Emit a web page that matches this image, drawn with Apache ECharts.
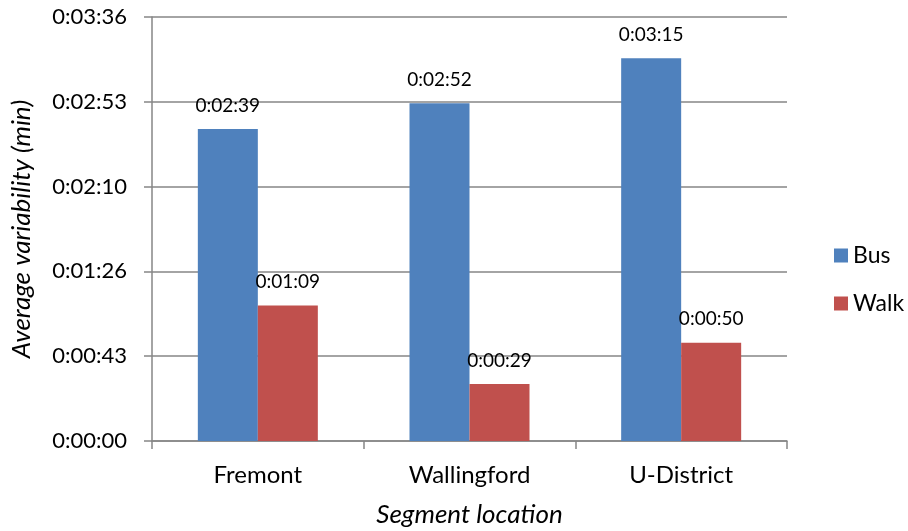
<!DOCTYPE html>
<html>
<head>
<meta charset="utf-8">
<script src="https://cdn.jsdelivr.net/npm/echarts@6/dist/echarts.min.js"></script>
<style>html,body{margin:0;padding:0;background:#fff;}#c{width:908px;height:531px;}</style>
</head>
<body>
<div id="c"></div>
<script>
// Data (seconds)
const categories = ["Fremont", "Wallingford", "U-District"];
const busValues = [159, 172, 195];
const walkValues = [69, 29, 50];
const seriesNames = ["Bus", "Walk"];
const yMax = 216; // 0:03:36
const yInterval = 43.2;

function fmt(v) {
  const s = Math.round(v);
  const h = Math.floor(s / 3600);
  const m = Math.floor((s % 3600) / 60);
  const sec = s % 60;
  return h + ":" + String(m).padStart(2, "0") + ":" + String(sec).padStart(2, "0");
}

const FONT = "Lato, 'Open Sans', sans-serif";
const chart = echarts.init(document.getElementById("c"), null, {renderer: "canvas"});
chart.setOption({
  animation: false,
  textStyle: {fontFamily: FONT, color: "#000"},
  grid: {left: 152, right: 121, top: 17, bottom: 90, containLabel: false, outerBoundsMode: "none"},
  legend: {
    orient: "vertical",
    left: 829, top: 239,
    itemWidth: 14, itemHeight: 14, itemGap: 25,
    icon: "rect",
    textStyle: {fontSize: 23, fontFamily: FONT, color: "#000", padding: [0, 0, 0, 0]},
    data: seriesNames
  },
  xAxis: {
    type: "category",
    data: categories,
    name: "Segment location",
    nameLocation: "middle",
    nameGap: 61,
    nameTextStyle: {fontSize: 26, fontStyle: "italic", fontFamily: FONT, color: "#000"},
    axisLine: {lineStyle: {color: "#868686", width: 1.5}},
    axisTick: {show: true, length: 8, lineStyle: {color: "#868686", width: 1.5}},
    axisLabel: {fontSize: 24, color: "#000", margin: 22, fontFamily: FONT}
  },
  yAxis: {
    type: "value",
    min: 0, max: yMax, interval: yInterval,
    name: "Average variability (min)",
    nameLocation: "middle",
    nameGap: 117,
    nameTextStyle: {fontSize: 26, fontStyle: "italic", fontFamily: FONT, color: "#000"},
    axisLine: {show: true, lineStyle: {color: "#868686", width: 1.5}},
    axisTick: {show: true, length: 8, lineStyle: {color: "#868686", width: 1.5}},
    splitLine: {lineStyle: {color: "#868686", width: 1.5}},
    axisLabel: {fontSize: 22, color: "#000", margin: 25, formatter: fmt, fontFamily: FONT}
  },
  series: [
    {
      name: seriesNames[0], type: "bar", data: busValues,
      barWidth: 60, barGap: "0%",
      itemStyle: {color: "#4F81BD"},
      label: {show: true, position: "top", distance: 14, fontSize: 19, color: "#000", formatter: p => fmt(p.value), fontFamily: FONT}
    },
    {
      name: seriesNames[1], type: "bar", data: walkValues,
      barWidth: 60, barGap: "0%",
      itemStyle: {color: "#C0504D"},
      label: {show: true, position: "top", distance: 14, fontSize: 19, color: "#000", formatter: p => fmt(p.value), fontFamily: FONT}
    }
  ]
});
</script>
</body>
</html>
